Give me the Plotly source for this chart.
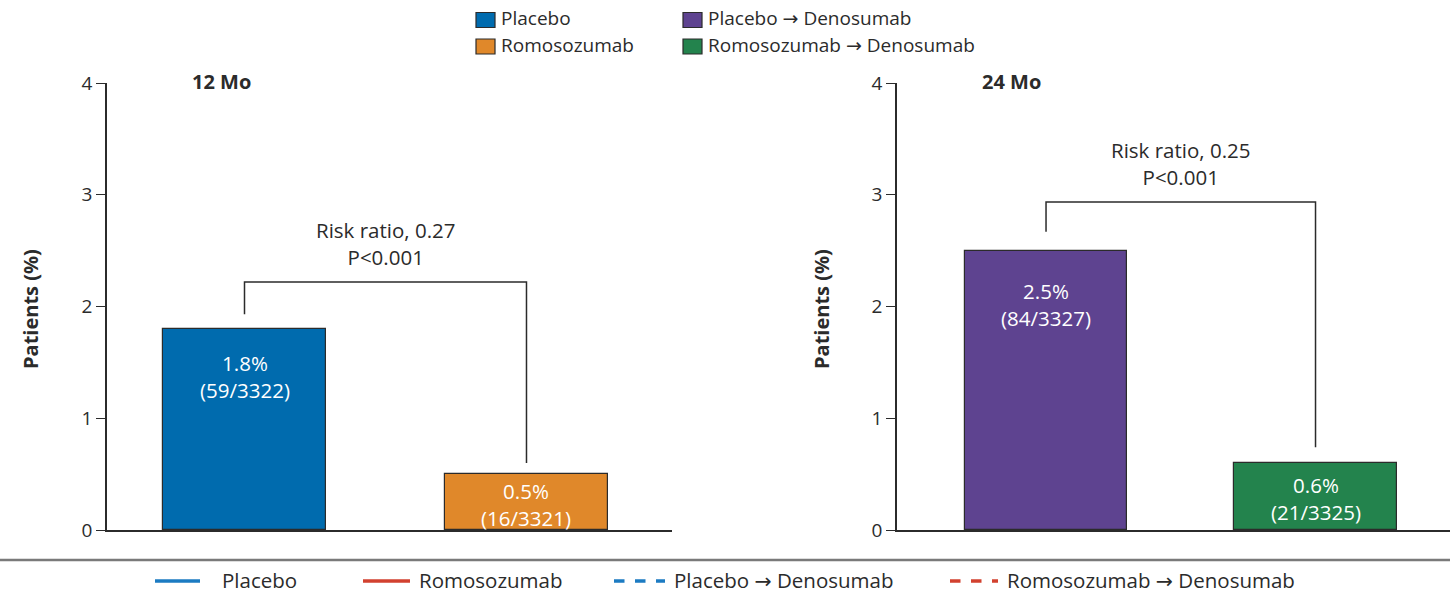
import plotly.graph_objects as go

# ---------------- data ----------------
panels = ["12 Mo", "24 Mo"]
groups_12 = ["Placebo", "Romosozumab"]
values_12 = [1.8, 0.5]
counts_12 = ["(59/3322)", "(16/3321)"]
groups_24 = ["Placebo → Denosumab", "Romosozumab → Denosumab"]
values_24 = [2.5, 0.6]
counts_24 = ["(84/3327)", "(21/3325)"]
risk_text = ["Risk ratio, 0.27<br>P<0.001", "Risk ratio, 0.25<br>P<0.001"]
y_ticks = [0, 1, 2, 3, 4]
bottom_legend = ["Placebo", "Romosozumab", "Placebo → Denosumab", "Romosozumab → Denosumab"]

# ---------------- style ----------------
FONT = "Open Sans"
DARK = "#2b2b2b"
bar_colors_12 = ["#006BAE", "#E0882A"]
bar_colors_24 = ["#5E4390", "#23834D"]
line_colors = ["#1C7BC2", "#D2412F", "#1C7BC2", "#D2412F"]
line_dash = ["solid", "solid", "dash", "dash"]
FS = 19
FS_BIG = 20.5

W, H = 1450, 596
def px(x):
    return x / W
def py(y):
    return 1 - y / H

def arrow(s):
    return s.replace("→", "<span style=\"font-family:'DejaVu Sans'\">→</span>")

fig = go.Figure()

# bars
fig.add_trace(go.Bar(x=[0, 1], y=values_12, width=0.578,
                     marker=dict(color=bar_colors_12, line=dict(color=DARK, width=1.2)),
                     xaxis="x", yaxis="y", showlegend=False, hoverinfo="skip"))
fig.add_trace(go.Bar(x=[0, 1], y=values_24, width=0.603,
                     marker=dict(color=bar_colors_24, line=dict(color=DARK, width=1.2)),
                     xaxis="x2", yaxis="y2", showlegend=False, hoverinfo="skip"))

ydom = [py(530), py(83)]
axis_common = dict(showgrid=False, zeroline=False, showline=True, linecolor=DARK,
                   linewidth=1.6, automargin=False)
yaxis_common = dict(domain=ydom, range=[0, 4], tickvals=y_ticks, ticks="outside", ticklen=9,
                    tickwidth=1.4, tickcolor=DARK, tickfont=dict(size=FS, color=DARK))
fig.update_layout(
    width=W, height=H,
    margin=dict(l=0, r=0, t=0, b=0, pad=0, autoexpand=False),
    paper_bgcolor="white", plot_bgcolor="white",
    font=dict(family=FONT, color=DARK, size=FS),
    showlegend=False,
    bargap=0,
    xaxis=dict(domain=[px(107), px(672)], range=[-0.4876, 1.516], showticklabels=False,
               ticks="", anchor="y", **axis_common),
    yaxis=dict(anchor="x", **yaxis_common, **axis_common),
    xaxis2=dict(domain=[px(897), 1.0], range=[-0.553, 1.499], showticklabels=False,
                ticks="", anchor="y2", **axis_common),
    yaxis2=dict(anchor="x2", **yaxis_common, **axis_common),
)

annotations = []
shapes = []

# bar labels
pct_12 = [f"{v:.1f}%" for v in values_12]
pct_24 = [f"{v:.1f}%" for v in values_24]
shift_12 = [-18, -1]
shift_24 = [-24, -6]
for i in range(2):
    annotations.append(dict(x=i, y=values_12[i], xref="x", yref="y", yanchor="top",
                            yshift=shift_12[i], showarrow=False,
                            text=f"{pct_12[i]}<br>{counts_12[i]}",
                            font=dict(color="white", size=FS_BIG), align="center"))
    annotations.append(dict(x=i, y=values_24[i], xref="x2", yref="y2", yanchor="top",
                            yshift=shift_24[i], showarrow=False,
                            text=f"{pct_24[i]}<br>{counts_24[i]}",
                            font=dict(color="white", size=FS_BIG), align="center"))

# brackets
brackets = [("x", "y", 1.93, 2.22, 0.6), ("x2", "y2", 2.67, 2.935, 0.74)]
for k, (xr, yr, y0, ytop, y1) in enumerate(brackets):
    path = f"M 0,{y0} L 0,{ytop} L 1,{ytop} L 1,{y1}"
    shapes.append(dict(type="path", path=path, xref=xr, yref=yr,
                       line=dict(color=DARK, width=1.5)))
    annotations.append(dict(x=0.5, y=ytop, xref=xr, yref=yr, yanchor="bottom", yshift=9,
                            showarrow=False, text=risk_text[k], align="center",
                            font=dict(size=FS_BIG, color=DARK)))

# panel titles
annotations.append(dict(x=px(221), y=py(82), xref="paper", yref="paper", showarrow=False,
                        xanchor="center", yanchor="middle", text=f"<b>{panels[0]}</b>",
                        font=dict(size=20, color=DARK)))
annotations.append(dict(x=px(1011), y=py(82), xref="paper", yref="paper", showarrow=False,
                        xanchor="center", yanchor="middle", text=f"<b>{panels[1]}</b>",
                        font=dict(size=20, color=DARK)))

# y axis titles
for xx in [31, 822]:
    annotations.append(dict(x=px(xx), y=py(309), xref="paper", yref="paper", showarrow=False,
                            xanchor="center", yanchor="middle",
                            text="<b>Patients (%)</b>", textangle=-90,
                            font=dict(size=20, color=DARK)))

# top legend (squares)
top_items = [(476, 20, bar_colors_12[0], groups_12[0]),
             (476, 46.5, bar_colors_12[1], groups_12[1]),
             (683, 20, bar_colors_24[0], groups_24[0]),
             (683, 46.5, bar_colors_24[1], groups_24[1])]
for x0, yc, col, label in top_items:
    shapes.append(dict(type="rect", xref="paper", yref="paper",
                       x0=px(x0), x1=px(x0 + 19), y0=py(yc + 7.5), y1=py(yc - 7.5),
                       fillcolor=col, line=dict(color=DARK, width=1.2)))
    annotations.append(dict(x=px(x0 + 23), y=py(yc - 2), xref="paper", yref="paper",
                            xanchor="left", yanchor="middle", showarrow=False,
                            text=arrow(label), font=dict(size=FS, color=DARK)))

# separator
shapes.append(dict(type="line", xref="paper", yref="paper", x0=0, x1=1,
                   y0=py(560), y1=py(560), line=dict(color="#7a7a7a", width=2.5)))

# bottom legend (lines)
bx = [(155, 200, 220), (363, 410, 417), (614, 665, 672), (950, 998, 1005)]
for i, (l0, l1, tx) in enumerate(bx):
    shapes.append(dict(type="line", xref="paper", yref="paper", x0=px(l0), x1=px(l1),
                       y0=py(581), y1=py(581),
                       line=dict(color=line_colors[i], width=3.5, dash=line_dash[i])))
    annotations.append(dict(x=px(tx), y=py(580), xref="paper", yref="paper", xanchor="left",
                            yanchor="middle", showarrow=False, text=arrow(bottom_legend[i]),
                            font=dict(size=FS_BIG, color=DARK)))

fig.update_layout(annotations=annotations, shapes=shapes)
fig.write_html("out.html", config={"displayModeBar": False},
               post_script="document.body.style.margin='0';document.body.style.overflow='hidden';")
